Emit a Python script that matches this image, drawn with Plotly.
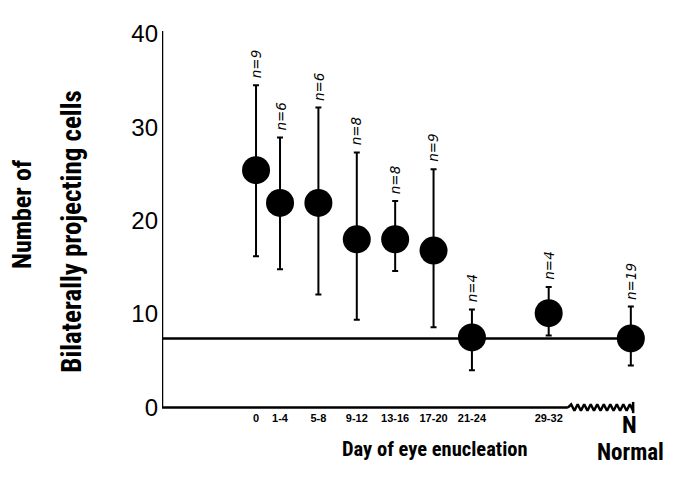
import numpy as np
import plotly.graph_objects as go

# ---- data ----
categories = ["0", "1-4", "5-8", "9-12", "13-16", "17-20", "21-24", "29-32"]
means = [25.4, 21.9, 21.9, 18.0, 18.0, 16.8, 7.5, 10.1]
upper = [34.5, 28.9, 32.1, 27.3, 22.1, 25.5, 10.5, 12.9]
lower = [16.2, 14.8, 12.1, 9.4, 14.6, 8.6, 4.0, 7.7]
n_counts = [9, 6, 6, 8, 8, 9, 4, 4]

normal_label = "N"
normal_mean = 7.4
normal_upper = 10.8
normal_lower = 4.5
normal_n = 19

y_ticks = [0, 10, 20, 30, 40]

def mid(lbl):
    parts = [float(p) for p in lbl.split("-")]
    return sum(parts) / len(parts)

x_days = [mid(c) for c in categories]
x_normal = 39.06

XMIN, XMAX = -9.8, 42.1
YMIN, YMAX = -0.8, 40.3
BRK0, BRK1 = 32.5, 39.3

OFF = 8  # page body margin
W, H = 676 - OFF, 479 - OFF
L = 162 - OFF
T = 25 - OFF
plot_h = 9.5 * (YMAX - YMIN)
B = H - T - plot_h
plot_w = 9.6 * (XMAX - XMIN)
R = W - L - plot_w

def px_to_paper_x(px):
    return (px - OFF - L) / plot_w

def px_to_paper_y(py):
    return (H - B - (py - OFF)) / plot_h

COND = "Roboto Condensed, DejaVu Sans Condensed, sans-serif"

fig = go.Figure()

zx = np.linspace(BRK0, BRK1, 21)
zy = np.array([0.35 if i % 2 else -0.35 for i in range(21)])
zy[0] = 0
fig.add_trace(go.Scatter(x=zx, y=zy, mode="lines",
                         line=dict(color="black", width=2.5),
                         hoverinfo="skip", showlegend=False))
fig.add_trace(go.Scatter(x=[BRK1, BRK1], y=[0.6, -0.6], mode="lines",
                         line=dict(color="black", width=2.5),
                         hoverinfo="skip", showlegend=False))

all_x = x_days + [x_normal]
all_m = means + [normal_mean]
all_u = upper + [normal_upper]
all_l = lower + [normal_lower]
all_n = n_counts + [normal_n]

fig.add_trace(go.Scatter(
    x=all_x, y=all_m, mode="markers",
    marker=dict(size=28, color="black"),
    error_y=dict(type="data", symmetric=False,
                 array=[u - m for u, m in zip(all_u, all_m)],
                 arrayminus=[m - l for m, l in zip(all_m, all_l)],
                 color="black", thickness=2, width=3),
    showlegend=False, cliponaxis=False))

shapes = [
    dict(type="line", xref="x", yref="y", x0=XMIN, x1=XMIN, y0=0, y1=YMAX,
         line=dict(color="black", width=2.5)),
    dict(type="line", xref="x", yref="y", x0=XMIN, x1=BRK0, y0=0, y1=0,
         line=dict(color="black", width=2.5)),
    dict(type="line", xref="x", yref="y", x0=XMIN, x1=x_normal,
         y0=normal_mean, y1=normal_mean,
         line=dict(color="black", width=2.5)),
]

annotations = []
for x, u, n in zip(all_x, all_u, all_n):
    annotations.append(dict(
        x=x, y=u, xref="x", yref="y", text=f"n={n}", textangle=-90,
        showarrow=False, yanchor="bottom", xanchor="center", yshift=5,
        font=dict(family="DejaVu Sans, sans-serif", size=13.5,
                  color="black", style="italic")))

annotations += [
    dict(x=x_normal - 0.1, y=0, xref="x", yref="y", text=normal_label,
         showarrow=False, yanchor="middle", yshift=-17,
         font=dict(family=COND, size=24, color="black", weight="bold")),
    dict(x=px_to_paper_x(631), y=px_to_paper_y(454), xref="paper",
         yref="paper", text="Normal", showarrow=False,
         xanchor="center", yanchor="middle",
         font=dict(family=COND, size=23, color="black", weight="bold")),
    dict(x=px_to_paper_x(435), y=px_to_paper_y(450), xref="paper",
         yref="paper", text="Day of eye enucleation", showarrow=False,
         xanchor="center", yanchor="middle",
         font=dict(family=COND, size=20.5, color="black", weight="bold")),
    dict(x=px_to_paper_x(22), y=px_to_paper_y(211), xref="paper",
         yref="paper", text="Number of", showarrow=False, textangle=-90,
         xanchor="center", yanchor="middle",
         font=dict(family=COND, size=26, color="black", weight="bold")),
    dict(x=px_to_paper_x(72), y=px_to_paper_y(229), xref="paper",
         yref="paper", text="Bilaterally projecting cells", showarrow=False,
         textangle=-90, xanchor="center", yanchor="middle",
         font=dict(family=COND, size=27, color="black", weight="bold")),
]

fig.update_layout(
    width=W, height=H,
    margin=dict(l=L, r=R, t=T, b=B, pad=0),
    paper_bgcolor="white", plot_bgcolor="white",
    shapes=shapes, annotations=annotations,
    showlegend=False,
    xaxis=dict(range=[XMIN, XMAX], showgrid=False, zeroline=False,
               showline=False, ticks="", tickvals=x_days,
               ticktext=categories, tickangle=0, ticklabelstandoff=-5,
               tickfont=dict(family="Liberation Sans, Arial, sans-serif",
                             size=11, color="black", weight="bold")),
    yaxis=dict(range=[YMIN, YMAX], showgrid=False, zeroline=False,
               showline=False, ticks="", tickvals=y_ticks, ticklabelstandoff=3,
               tickfont=dict(family="Liberation Sans, Arial, sans-serif",
                             size=24, color="black")),
)

fig.write_html("out.html")
